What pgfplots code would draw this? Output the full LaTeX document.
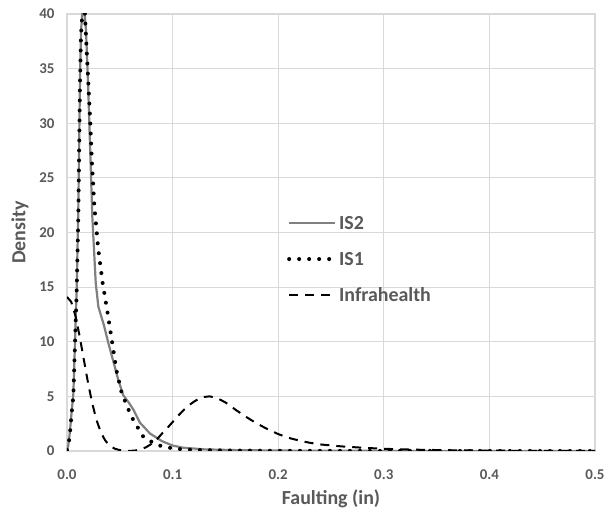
\documentclass[border=0pt]{standalone}
\usepackage{fontspec}
\setmainfont{Carlito}
\usepackage{pgfplots}
\pgfplotsset{compat=1.18}
\definecolor{txt}{RGB}{89,89,89}
\definecolor{gridc}{RGB}{217,217,217}
\definecolor{is2c}{RGB}{128,128,128}
\begin{document}
\begin{tikzpicture}
\useasboundingbox (-67bp,-59bp) rectangle (538bp,451bp);
\begin{axis}[
  scale only axis, width=528bp, height=437bp,
  xmin=0, xmax=0.5, ymin=0, ymax=40,
  xtick={0,0.1,0.2,0.3,0.4,0.5},
  ytick={0,5,10,15,20,25,30,35,40},
  grid=major,
  major grid style={draw=gridc, line width=1.2bp},
  axis line style={draw=gridc, line width=1.2bp},
  tick style={draw=none},
  /pgf/number format/assume math mode=true,
  ticklabel style={font=\fontsize{15}{18}\selectfont\bfseries, text=txt},
  xticklabel style={/pgf/number format/fixed, /pgf/number format/fixed zerofill, /pgf/number format/precision=1, yshift=-15bp},
  yticklabel style={/pgf/number format/fixed, xshift=-9bp},
  xlabel={Faulting (in)}, ylabel={Density},
  every axis x label/.style={at={(axis description cs:0.5,0)}, anchor=center, yshift=-48bp, font=\fontsize{20}{24}\selectfont\bfseries, text=txt},
  every axis y label/.style={at={(axis description cs:0,0.5)}, anchor=center, xshift=-47bp, rotate=90, font=\fontsize{20}{24}\selectfont\bfseries, text=txt},
  legend image code/.code={\draw[#1] (0bp,0bp) -- (46bp,0bp);},
  legend cell align=left,
  legend style={draw=none, fill=none, inner sep=0pt, at={(axis cs:0.2083,17.57)}, anchor=west,
    font=\fontsize{20}{24}\selectfont\bfseries, text=txt, column sep=2bp, row sep=23bp,
    nodes={inner sep=0pt, text height=13bp, text depth=0pt}},
]
\addplot[draw=is2c, line width=2.2bp, line join=round] coordinates {
(0,0.1) (0.0012,0.5) (0.0028,1.8) (0.0044,3.6) (0.006,5.2) (0.0076,10) (0.0092,15) (0.0107,22)
(0.0123,34) (0.0133,38.5) (0.0155,41.5) (0.018,38.5) (0.02,33.5) (0.0218,28) (0.024,21.4)
(0.0272,15.4) (0.0297,13.2) (0.035,11.5) (0.0391,9.9) (0.045,7.8) (0.0486,6.5) (0.0533,5.1)
(0.058,4.5) (0.0628,3.8) (0.069,2.6) (0.0786,1.6) (0.09,0.9) (0.1,0.5) (0.11,0.3) (0.13,0.15)
(0.16,0.08) (0.2,0.04) (0.3,0.01) (0.5,0)
};
\addlegendentry{IS2}
\addplot[draw=black, line width=4bp, line cap=round, dash pattern=on 0bp off 10bp] coordinates {
(0,0.1) (0.0012,0.4) (0.0028,1.6) (0.0044,3.45) (0.006,5) (0.0076,9.9) (0.0092,14.7) (0.0107,21.4)
(0.0123,33.7) (0.0133,38.2) (0.016,42) (0.0186,36.7) (0.0202,33.7) (0.0218,30.6) (0.0234,26.8)
(0.0259,22.4) (0.0297,18.4) (0.0338,15.35) (0.0385,12.6) (0.0429,9.86) (0.047,7.3) (0.0518,5.3)
(0.0565,4.2) (0.0597,3.45) (0.063,2.8) (0.0723,1.3) (0.085,0.55) (0.102,0.2) (0.12,0.1)
(0.15,0.05) (0.2,0.02) (0.3,0.01) (0.5,0)
};
\addlegendentry{IS1}
\addplot[draw=black, line width=2bp, dash pattern=on 9bp off 7bp] coordinates {
(0,14.1) (0.004,13.65) (0.008,12.37) (0.012,10.49) (0.016,8.33) (0.02,6.2) (0.024,4.32)
(0.028,2.82) (0.032,1.72) (0.036,0.99) (0.04,0.53) (0.045,0.22) (0.05,0.083) (0.055,0.028)
(0.06,0.01) (0.065,0.05) (0.07,0.15) (0.075,0.35) (0.08,0.65) (0.085,1.05) (0.09,1.6)
(0.095,2.1) (0.1,2.65) (0.105,3.2) (0.11,3.7) (0.115,4.15) (0.12,4.5) (0.125,4.8) (0.13,4.95)
(0.135,5.0) (0.14,4.9) (0.145,4.7) (0.15,4.45) (0.155,4.1) (0.16,3.75) (0.17,3.1) (0.18,2.5)
(0.19,2.0) (0.2,1.55) (0.21,1.2) (0.22,0.95) (0.23,0.75) (0.24,0.6) (0.26,0.42) (0.28,0.3)
(0.3,0.2) (0.33,0.12) (0.36,0.07) (0.4,0.03) (0.45,0.01) (0.5,0)
};
\addlegendentry{Infrahealth}
\end{axis}
\end{tikzpicture}
\end{document}
